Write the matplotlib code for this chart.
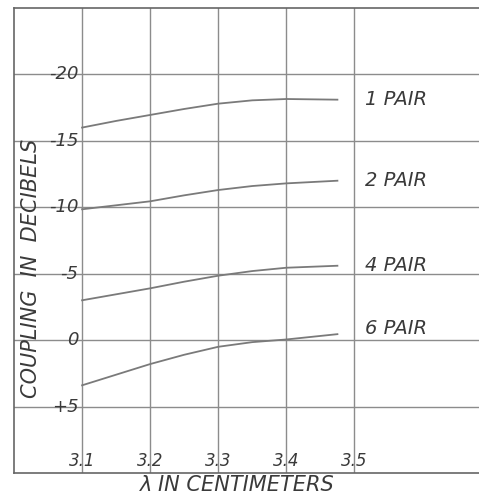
import numpy as np
import matplotlib
matplotlib.use("Agg")
import matplotlib.pyplot as plt

# wavelength (cm)
wavelength = [3.10, 3.15, 3.20, 3.25, 3.30, 3.35, 3.40, 3.475]
# coupling in dB (negative = up on the chart)
pair_1 = [-16.0, -16.5, -16.95, -17.4, -17.8, -18.05, -18.15, -18.1]
pair_2 = [-9.85, -10.15, -10.45, -10.9, -11.3, -11.6, -11.8, -12.0]
pair_4 = [-3.0, -3.45, -3.9, -4.4, -4.85, -5.2, -5.45, -5.6]
pair_6 = [3.4, 2.6, 1.8, 1.1, 0.5, 0.15, -0.05, -0.45]

series_labels = ["1 PAIR", "2 PAIR", "4 PAIR", "6 PAIR"]
label_y = [-18.1, -12.0, -5.6, -0.9]

x_ticks = [3.1, 3.2, 3.3, 3.4, 3.5]
x_tick_labels = ["3.1", "3.2", "3.3", "3.4", "3.5"]
y_ticks = [-20, -15, -10, -5, 0, 5]
y_tick_labels = ["-20", "-15", "-10", "-5", "0", "+5"]

ink = "#3a3a3a"
line_col = "#7a7a7a"
grid_col = "#8c8c8c"

fig = plt.figure(figsize=(4.79, 4.98), dpi=100)
ax = fig.add_axes([14 / 479, 25 / 498, 1.0 - 14 / 479 + 0.01, 465 / 498])

ax.set_xlim(3.0, 3.69)
ax.set_ylim(10, -25)

# grid lines at ticks, labels drawn inside the frame like the original
ax.set_xticks(x_ticks)
ax.set_yticks(y_ticks)
ax.set_xticklabels([])
ax.set_yticklabels([])
ax.tick_params(length=0)
ax.grid(True, color=grid_col, linewidth=1.0)
for sp in ax.spines.values():
    sp.set_color("#666666")
    sp.set_linewidth(1.2)

for ys in [pair_1, pair_2, pair_4, pair_6]:
    ax.plot(wavelength, ys, color=line_col, linewidth=1.3)

font = dict(family="DejaVu Sans", style="italic", color=ink)

for lab, yv in zip(series_labels, label_y):
    ax.text(3.515, yv, lab, fontsize=14, va="center", ha="left", **font)

for yv, lab in zip(y_ticks, y_tick_labels):
    ax.text(3.095, yv, lab, fontsize=13, va="center", ha="right", **font)

for xv, lab in zip(x_ticks, x_tick_labels):
    ax.text(xv, 9.1, lab, fontsize=12, va="center", ha="center", **font)

ax.text(3.025, -5.4, "COUPLING  IN  DECIBELS", rotation=90, fontsize=15,
        va="center", ha="center", **font)

fig.text(0.495, 0.026, "λ IN CENTIMETERS", fontsize=15, ha="center",
         va="center", **font)

fig.savefig("out.png", dpi=100, facecolor="white")
